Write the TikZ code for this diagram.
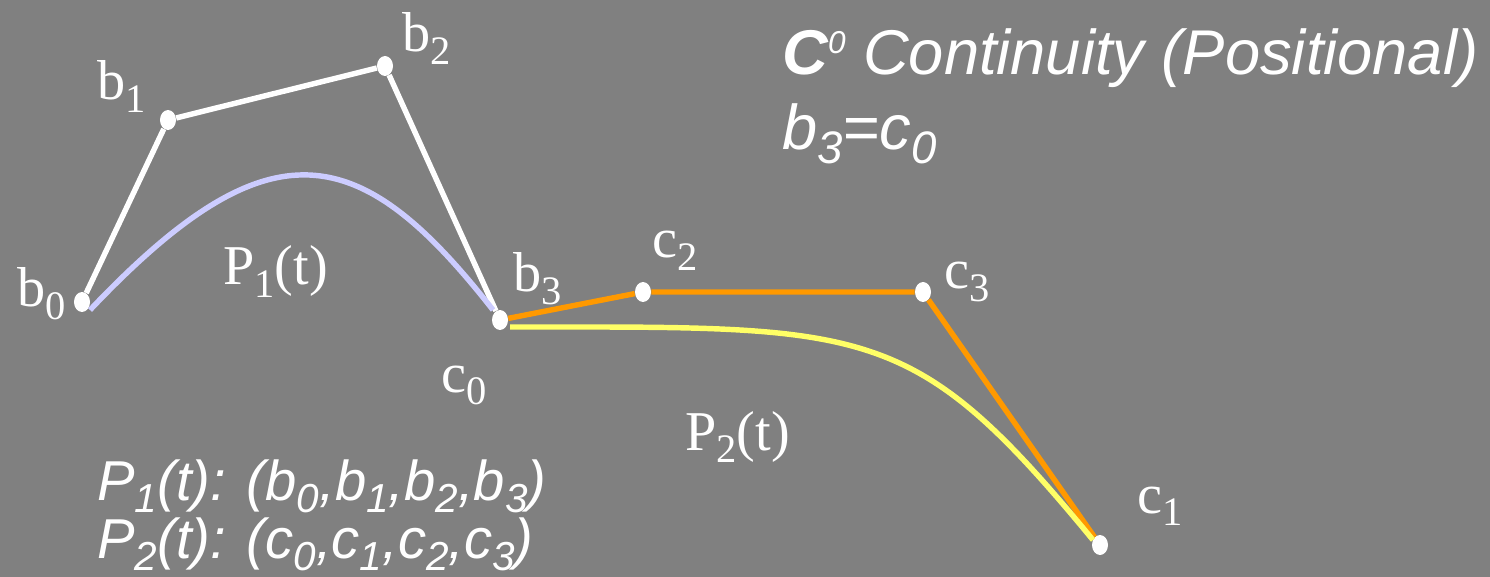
\documentclass[tikz,border=0pt]{standalone}
\usepackage{fontspec}
\setmainfont{Liberation Serif}
\setsansfont{Liberation Sans}
\usetikzlibrary{shapes.geometric}
\definecolor{mGray}{HTML}{808080}
\definecolor{mLav}{HTML}{CCCCFF}
\definecolor{mYel}{HTML}{FFFF66}
\definecolor{mOrange}{HTML}{FF9900}
\newcommand{\lsub}[1]{\raisebox{-.22em}{\scalebox{.72}{#1}}}

\begin{document}
\begin{tikzpicture}[x=0.02cm,y=-0.02cm,
    pt/.style={ellipse,fill=white,inner sep=0pt,minimum width=0.32cm,minimum height=0.4cm},
    lbl/.style={text=white,inner sep=0pt,anchor=base west,font=\fontsize{32}{36}\selectfont},
    note/.style={text=white,inner sep=0pt,anchor=base west,font=\sffamily\itshape\fontsize{32}{36}\selectfont},
    head/.style={text=white,inner sep=0pt,anchor=base west,font=\sffamily\itshape\fontsize{36}{40}\selectfont},
    ctrl/.style={line width=3.1pt}]
        \fill[mGray] (0,0) rectangle (1490,577);
        % control points
        \foreach \n/\x/\y in {b0/82/302,b1/168/120,b2/385/66,c2/643/292,c3/923/292,c1/1100/545}
          \node[pt] (\n) at (\x,\y) {};
        \node[pt,alias=c0] (b3) at (500,320) {};
        % control polygons
        \draw[ctrl,white] (b0) -- (b1) -- (b2) -- (b3);
        \draw[ctrl,mOrange] (c0) -- (c2) -- (c3) -- (c1);
        % the two curves
        \draw[ctrl,mLav] ([shift={(8,8)}]b0.center) .. controls (270,120) and (360,140) .. ([shift={(-7,-10)}]b3.center);
        \draw[ctrl,mYel] ([shift={(10,7)}]c0.center) .. controls (870,327) and (912,320) .. ([shift={(-7,-5)}]c1.center);
        % labels
        \foreach \n/\t/\x/\y in {b0/b\lsub{0}/17/307,b1/b\lsub{1}/97/100,b2/b\lsub{2}/402/52,b3/b\lsub{3}/513/292,
            c0/c\lsub{0}/441/392,c2/c\lsub{2}/652/258,c3/c\lsub{3}/944/289,c1/c\lsub{1}/1137/513}
          \node[lbl] (l\n) at (\x,\y) {\t};
        \node[lbl] (p1) at (223,285) {P\lsub{1}(t)};
        \node[lbl] (p2) at (685,450) {P\lsub{2}(t)};
        \node[head] (title) at (782,75) {\textbf{C}\raisebox{.34em}{\scalebox{.5}{0}} Continuity (Positional)};
        \node[head] (eq) at (782,150) {b\lsub{3}=c\lsub{0}};
        \node[note] (n1) at (97,500) {P\lsub{1}(t): (b\lsub{0},b\lsub{1},b\lsub{2},b\lsub{3})};
        \node[note] (n2) at (97,558) {P\lsub{2}(t): (c\lsub{0},c\lsub{1},c\lsub{2},c\lsub{3})};
      \end{tikzpicture}
\end{document}
